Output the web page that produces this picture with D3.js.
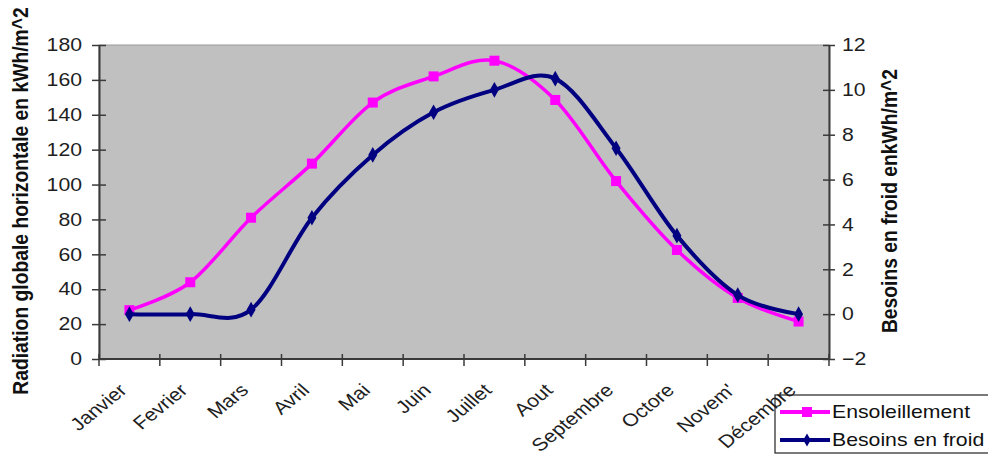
<!DOCTYPE html>
<html>
<head>
<meta charset="utf-8">
<script src="https://cdn.jsdelivr.net/npm/d3@7"></script>
<style>
  html, body { margin: 0; padding: 0; background: #fff; }
  svg { display: block; font-family: "Liberation Sans", Arial, sans-serif; }
</style>
</head>
<body>
<svg id="chart" width="988" height="456"></svg>
<script>
// Months (x categories)
const months = ["Janvier", "Fevrier", "Mars", "Avril", "Mai", "Juin", "Juillet",
                "Aout", "Septembre", "Octore", "Novem'", "Décembre"];
// Global horizontal radiation, kWh/m^2 (left axis)
const ensoleillement = [28, 44, 81, 112, 147, 162, 171, 148.5, 102, 62.5, 35, 21.5];
// Cooling needs, kWh/m^2 (right axis)
const besoinsFroid = [0, 0, 0.2, 4.3, 7.1, 9.0, 10.0, 10.5, 7.4, 3.5, 0.85, 0];
// Axis ticks
const leftTicks = [0, 20, 40, 60, 80, 100, 120, 140, 160, 180];
const rightTicks = [-2, 0, 2, 4, 6, 8, 10, 12];

const svg = d3.select("#chart");
const plot = { left: 99, right: 829, top: 45, bottom: 359 };
// Text is drawn slightly wide (horizontal stretch factor)
const sx = 1.18;

const x = d3.scaleBand().domain(months).range([plot.left, plot.right]);
const cx = d => x(d) + x.bandwidth() / 2;
const yL = d3.scaleLinear().domain([0, 180]).range([plot.bottom, plot.top]);
const yR = d3.scaleLinear().domain([-2, 12]).range([plot.bottom, plot.top]);

const axisColor = "#3a3a3a";
const textColor = "#1e1e1e";

// Plot area
svg.append("rect")
  .attr("x", plot.left).attr("y", plot.top)
  .attr("width", plot.right - plot.left).attr("height", plot.bottom - plot.top)
  .attr("fill", "#c0c0c0").attr("stroke", "#9a9a9a").attr("stroke-width", 1);

// Left axis
const gL = svg.append("g").attr("transform", `translate(${plot.left},0)`)
  .call(d3.axisLeft(yL).tickValues(leftTicks).tickSize(7).tickSizeOuter(0));
gL.selectAll(".tick line").attr("x2", 7).attr("x1", -7);
gL.selectAll(".tick text").attr("x", 0)
  .attr("transform", `translate(-17,0) scale(${sx},1)`);
// Right axis
const gR = svg.append("g").attr("transform", `translate(${plot.right},0)`)
  .call(d3.axisRight(yR).tickValues(rightTicks).tickSize(6).tickSizeOuter(0));
gR.selectAll(".tick line").attr("x1", -6);
gR.selectAll(".tick text").attr("x", 0)
  .attr("transform", `translate(13,0) scale(${sx},1)`);

[gL, gR].forEach(g => {
  g.select(".domain").attr("stroke", axisColor).attr("stroke-width", 2);
  g.selectAll(".tick line").attr("stroke", axisColor).attr("stroke-width", 1.5);
  g.selectAll(".tick text").attr("font-size", 18).attr("fill", textColor)
    .attr("font-family", "Liberation Sans, Arial, sans-serif");
});

// Bottom axis: ticks at category boundaries
const boundaries = d3.range(months.length + 1).map(i => plot.left + i * x.bandwidth());
const gB = svg.append("g");
gB.append("line").attr("x1", plot.left).attr("x2", plot.right)
  .attr("y1", plot.bottom).attr("y2", plot.bottom)
  .attr("stroke", axisColor).attr("stroke-width", 2);
gB.selectAll("line.tk").data(boundaries).join("line").attr("class", "tk")
  .attr("x1", d => d).attr("x2", d => d)
  .attr("y1", plot.bottom - 5).attr("y2", plot.bottom + 7)
  .attr("stroke", axisColor).attr("stroke-width", 1.5);

// Axis titles
svg.append("text")
  .attr("transform", `translate(28,${(plot.top + plot.bottom) / 2 - 1}) scale(${sx},1) rotate(-90)`)
  .attr("text-anchor", "middle").attr("font-size", 19.3).attr("font-weight", "bold")
  .attr("fill", "#111")
  .text("Radiation globale horizontale en kWh/m^2");
svg.append("text")
  .attr("transform", `translate(897,${(plot.top + plot.bottom) / 2 - 1}) scale(${sx},1) rotate(-90)`)
  .attr("text-anchor", "middle").attr("font-size", 19.3).attr("font-weight", "bold")
  .attr("fill", "#111")
  .text("Besoins en froid enkWh/m^2");

// Series
const pink = "#ff00ff", navy = "#000080";
const curve = d3.curveCatmullRom.alpha(0);

const linePink = d3.line().x((d, i) => cx(months[i])).y(d => yL(d)).curve(curve);
const lineNavy = d3.line().x((d, i) => cx(months[i])).y(d => yR(d)).curve(curve);

svg.append("path").datum(ensoleillement).attr("d", linePink)
  .attr("fill", "none").attr("stroke", pink).attr("stroke-width", 3.5)
  .attr("stroke-linejoin", "round");
svg.append("g").selectAll("rect").data(ensoleillement).join("rect")
  .attr("x", (d, i) => cx(months[i]) - 5).attr("y", d => yL(d) - 5)
  .attr("width", 10).attr("height", 10).attr("fill", pink);

svg.append("path").datum(besoinsFroid).attr("d", lineNavy)
  .attr("fill", "none").attr("stroke", navy).attr("stroke-width", 4)
  .attr("stroke-linejoin", "round");
const diamond = d3.symbol().type(d3.symbolDiamond).size(70);
svg.append("g").selectAll("path").data(besoinsFroid).join("path")
  .attr("transform", (d, i) => `translate(${cx(months[i])},${yR(d)})`)
  .attr("d", diamond).attr("fill", navy);

// Legend
const lg = svg.append("g").attr("transform", "translate(775,395)");
lg.append("rect").attr("x", 0).attr("y", 0).attr("width", 230).attr("height", 58)
  .attr("fill", "#fff").attr("stroke", "#222").attr("stroke-width", 1.2);
const items = [
  { name: "Ensoleillement", color: pink, marker: "square" },
  { name: "Besoins en froid", color: navy, marker: "diamond" }
];
items.forEach((it, i) => {
  const yy = 17 + i * 28;
  lg.append("line").attr("x1", 5).attr("x2", 55).attr("y1", yy).attr("y2", yy)
    .attr("stroke", it.color).attr("stroke-width", 4);
  if (it.marker === "square") {
    lg.append("rect").attr("x", 27).attr("y", yy - 5).attr("width", 10).attr("height", 10)
      .attr("fill", it.color);
  } else {
    lg.append("path").attr("transform", `translate(32,${yy})`)
      .attr("d", d3.symbol().type(d3.symbolDiamond).size(50)).attr("fill", it.color);
  }
  lg.append("text").attr("transform", `translate(57,${yy}) scale(${sx},1)`)
    .attr("dy", "0.36em")
    .attr("font-size", 18).attr("fill", "#111").text(it.name);
});

// Month labels, slanted, drawn last so they sit above the legend frame
svg.append("g").selectAll("text").data(months).join("text")
  .attr("transform", d => `translate(${cx(d) - 6.5},${plot.bottom + 28}) scale(${sx},1) rotate(-44)`)
  .attr("text-anchor", "end")
  .attr("dy", "0.35em")
  .attr("font-size", 18).attr("fill", textColor)
  .text(d => d);
</script>
</body>
</html>
